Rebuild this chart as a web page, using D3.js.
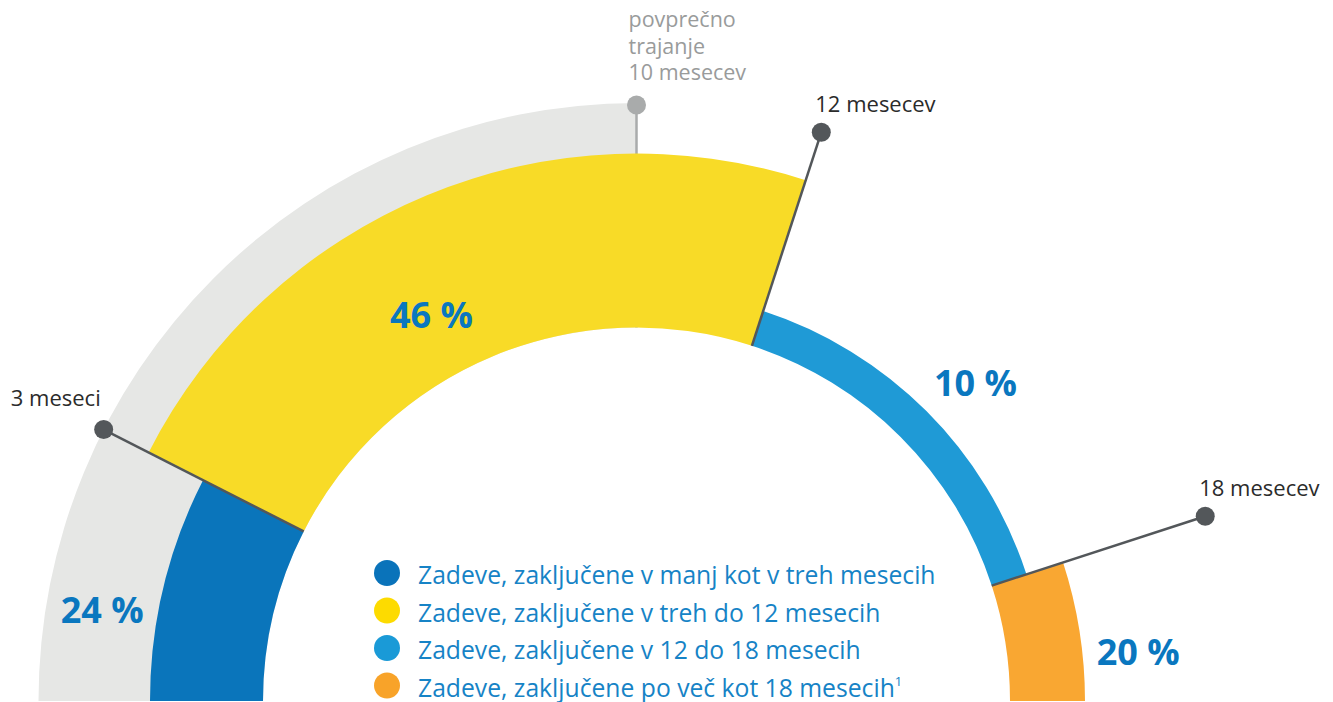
<!DOCTYPE html>
<html>
  <head>
    <meta charset="UTF-8">
    <style>
      body { margin: 0; background: #fff; }
      svg { display: block; font-family: "Open Sans", sans-serif; }
    </style>
  </head>
  <body>
    <svg id="chart" width="1333" height="702"></svg>
    <script src="https://cdnjs.cloudflare.com/ajax/libs/d3/7.8.5/d3.min.js"></script>
    <script>
      // data
      var categories = [
        "Zadeve, zaključene v manj kot v treh mesecih",
        "Zadeve, zaključene v treh do 12 mesecih",
        "Zadeve, zaključene v 12 do 18 mesecih",
        "Zadeve, zaključene po več kot 18 mesecih"
      ];
      var shares = [24, 46, 10, 20];
      var monthBounds = [0, 3, 12, 18, 20];
      var markMonths = [3, 12, 18];
      var markLabels = ["3 meseci", "12 mesecev", "18 mesecev"];
      var avgMonths = 10;
      var avgLabel = ["povprečno", "trajanje", "10 mesecev"];

      var colors = ["#0a75bb", "#f8db27", "#1f9ad6", "#f9a732"];
      var legendColors = ["#0a73ba", "#fddb00", "#1a9ad7", "#f8a329"];

      var svg = d3.select("#chart");
      var cx = 636.5, cy = 701;
      var innerR = 373.5, markR = 598;

      // months -> angle
      var angle = d3.scaleLinear().domain([0, 20]).range([-Math.PI / 2, Math.PI / 2]);
      // share -> outer radius of the ring
      var outer = d3.scaleLinear().domain([10, 20, 24, 46]).range([410, 448.5, 486.5, 547.5]);

      var g = svg.append("g").attr("transform", "translate(" + cx + "," + cy + ")");
      var arc = d3.arc();

      // grey average band
      g.append("path")
          .attr("d", arc({innerRadius: innerR, outerRadius: markR,
                          startAngle: angle(0), endAngle: angle(avgMonths)}))
          .attr("fill", "#e6e7e5");

      function pt(m, r) {
        var a = angle(m);
        return [Math.sin(a) * r, -Math.cos(a) * r];
      }

      // average marker
      var a0 = pt(avgMonths, innerR), a1 = pt(avgMonths, markR - 2);
      g.append("line")
          .attr("x1", a0[0]).attr("y1", a0[1]).attr("x2", a1[0]).attr("y2", a1[1])
          .attr("stroke", "#a9abab").attr("stroke-width", 2.5);
      g.append("circle").attr("cx", a1[0]).attr("cy", a1[1]).attr("r", 9.5).attr("fill", "#a9abab");
      g.append("text")
          .attr("fill", "#999b9b").attr("font-size", 21.5)
        .selectAll("tspan")
        .data(avgLabel)
        .enter().append("tspan")
          .attr("x", a1[0] - 8)
          .attr("y", function(d, i) { return a1[1] - 78 + i * 26.5; })
          .text(function(d) { return d; });

      // segments
      g.selectAll(".seg")
        .data(shares)
        .enter().append("path")
          .attr("class", "seg")
          .attr("d", function(d, i) {
            return arc({innerRadius: innerR, outerRadius: outer(d),
                        startAngle: angle(monthBounds[i]), endAngle: angle(monthBounds[i + 1])});
          })
          .attr("fill", function(d, i) { return colors[i]; });

      // divider markers
      markMonths.forEach(function(m, i) {
        var p0 = pt(m, innerR), p1 = pt(m, markR);
        g.append("line")
            .attr("x1", p0[0]).attr("y1", p0[1]).attr("x2", p1[0]).attr("y2", p1[1])
            .attr("stroke", "#53575a").attr("stroke-width", 2.5);
        g.append("circle").attr("cx", p1[0]).attr("cy", p1[1]).attr("r", 9.5).attr("fill", "#53575a");
        var left = i == 0;
        g.append("text")
            .attr("x", left ? p1[0] - 3 : p1[0] - 6)
            .attr("y", left ? p1[1] - 24 : p1[1] - 20)
            .attr("text-anchor", left ? "end" : "start")
            .attr("fill", "#2b2b2b").attr("font-size", 22)
            .text(markLabels[i]);
      });

      // percent labels (month, radius) placement
      var labelPos = [[1.07, 542], [6.89, 437], [15.2, 465], [19.38, 504]];
      g.selectAll(".pct")
        .data(shares)
        .enter().append("text")
          .attr("class", "pct")
          .attr("x", function(d, i) { return pt(labelPos[i][0], labelPos[i][1])[0]; })
          .attr("y", function(d, i) { return pt(labelPos[i][0], labelPos[i][1])[1]; })
          .attr("dy", "0.36em")
          .attr("text-anchor", "middle")
          .attr("font-size", 36).attr("font-weight", 700)
          .attr("fill", "#0a77bf")
          .text(function(d) { return d + " %"; });

      // legend
      var legend = svg.append("g").attr("transform", "translate(387,573)");
      var row = legend.selectAll(".row")
        .data(categories)
        .enter().append("g")
          .attr("class", "row")
          .attr("transform", function(d, i) { return "translate(0," + (i * 37.5) + ")"; });
      row.append("circle").attr("r", 13).attr("fill", function(d, i) { return legendColors[i]; });
      var lt = row.append("text")
          .attr("x", 31).attr("y", 11)
          .attr("font-size", 24.7).attr("fill", "#1683c6")
          .text(function(d) { return d; });
      lt.filter(function(d, i) { return i == 3; })
        .append("tspan")
          .attr("font-size", 13).attr("dy", -11)
          .text("1");
    </script>
  </body>
</html>
